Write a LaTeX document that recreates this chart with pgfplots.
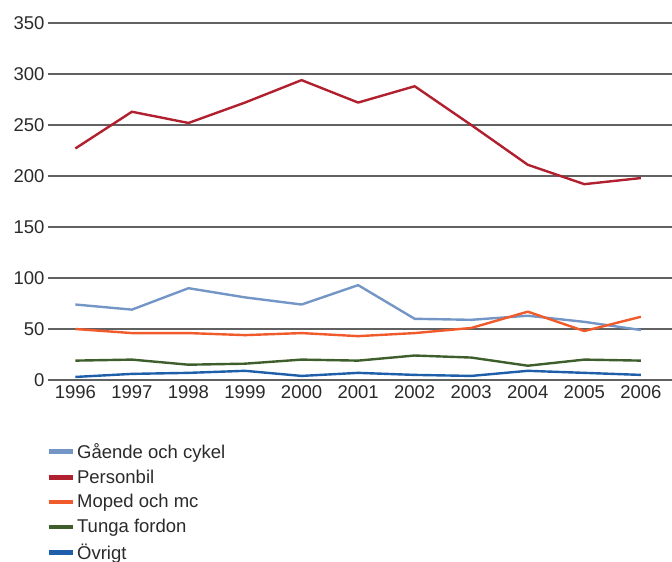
\documentclass[border=0pt]{standalone}
\usepackage{pgfplots}
\pgfplotsset{compat=1.18}
\usepackage{fontspec}
\setmainfont{Liberation Sans}
\definecolor{cgaende}{HTML}{7396C6}
\definecolor{cperson}{HTML}{B0202E}
\definecolor{cmoped}{HTML}{F15A2B}
\definecolor{ctunga}{HTML}{3E5F2B}
\definecolor{covrigt}{HTML}{1F5EA8}
\definecolor{ctext}{HTML}{2A2A2A}
\begin{document}
\begin{tikzpicture}
\useasboundingbox (-48pt,-182pt) rectangle (624pt,380pt);
\begin{axis}[
  at={(0,0)}, anchor=south west,
  scale only axis, width=624pt, height=357pt,
  xmin=1995.516, xmax=2006.55, ymin=0, ymax=350,
  xtick={1996,...,2006}, ytick={0,50,...,350},
  /pgf/number format/assume math mode=true,
  xticklabel style={/pgf/number format/1000 sep={}, font=\fontsize{18.5}{20}\selectfont, text=ctext},
  yticklabel style={font=\fontsize{18.5}{20}\selectfont, text=ctext},
  major tick length=0pt,
  axis line style={draw=none},
  ymajorgrids, grid style={draw=black!62, line width=1.2pt},
  xticklabel shift=2.5pt, yticklabel shift=0pt,
  legend style={at={(rel axis cs:-0.003,-0.171)}, anchor=north west, draw=none, fill=none,
    font=\fontsize{18.5}{20}\selectfont, text=ctext, row sep=6pt, inner sep=0pt,
    legend cell align=left},
  legend image code/.code={\draw[line width=4.8pt] (0pt,0pt) -- (24pt,0pt);},
  every axis plot/.append style={line width=2.4pt, line join=round},
]
\addplot[color=cgaende] coordinates {(1996,74)(1997,69)(1998,90)(1999,81)(2000,74)(2001,93)(2002,60)(2003,59)(2004,63)(2005,57)(2006,49)};
\addlegendentry{Gående och cykel}
\addplot[color=cperson] coordinates {(1996,227)(1997,263)(1998,252)(1999,272)(2000,294)(2001,272)(2002,288)(2003,250)(2004,211)(2005,192)(2006,198)};
\addlegendentry{Personbil}
\addplot[color=cmoped] coordinates {(1996,50)(1997,46)(1998,46)(1999,44)(2000,46)(2001,43)(2002,46)(2003,51)(2004,67)(2005,48)(2006,62)};
\addlegendentry{Moped och mc}
\addplot[color=ctunga] coordinates {(1996,19)(1997,20)(1998,15)(1999,16)(2000,20)(2001,19)(2002,24)(2003,22)(2004,14)(2005,20)(2006,19)};
\addlegendentry{Tunga fordon}
\addplot[color=covrigt] coordinates {(1996,3)(1997,6)(1998,7)(1999,9)(2000,4)(2001,7)(2002,5)(2003,4)(2004,9)(2005,7)(2006,5)};
\addlegendentry{Övrigt}
\end{axis}
\end{tikzpicture}
\end{document}
